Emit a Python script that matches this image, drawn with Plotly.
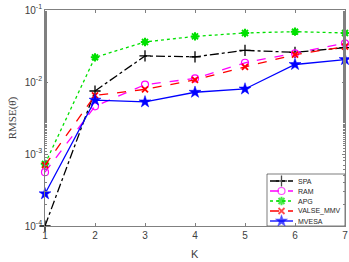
import plotly.graph_objects as go

K = [1, 2, 3, 4, 5, 6, 7]
spa = [1.0e-4, 7.5e-3, 0.023, 0.0224, 0.0275, 0.0258, 0.030]
ram = [5.6e-4, 4.6e-3, 0.0092, 0.0112, 0.0185, 0.025, 0.0345]
apg = [7.3e-4, 0.022, 0.036, 0.043, 0.048, 0.050, 0.048]
valse = [7.0e-4, 6.5e-3, 0.0079, 0.0107, 0.0162, 0.024, 0.031]
mvesa = [2.8e-4, 5.6e-3, 5.3e-3, 7.2e-3, 8.0e-3, 0.0175, 0.0205]

names = ["SPA", "RAM", "APG", "VALSE_MMV", "MVESA"]
ytickvals = [1e-4, 1e-3, 1e-2, 1e-1]
yticktext = ["10<sup>-4</sup>", "10<sup>-3</sup>", "10<sup>-2</sup>", "10<sup>-1</sup>"]

W, H = 349, 262
ML, MR, MT, MB = 45, 4, 10, 36
PX0, PX1 = ML, W - MR
PY0, PY1 = MT, H - MB
AX = "#808080"

styles = [
    (spa, "black", "dashdot", dict(symbol="cross-thin", size=8, line=dict(color="black", width=1.3))),
    (ram, "magenta", "dash", dict(symbol="circle-open", size=7, color="magenta", line=dict(color="magenta", width=1.2))),
    (apg, "#00e000", "dot", dict(symbol="asterisk", size=7, line=dict(color="#00e000", width=2))),
    (valse, "red", "dash", dict(symbol="x-thin", size=6, line=dict(color="red", width=1.8))),
    (mvesa, "blue", "solid", dict(symbol="star", size=9, color="blue", line=dict(color="blue", width=0.5))),
]

fig = go.Figure()
for (vals, col, dash, mk), nm in zip(styles, names):
    fig.add_trace(go.Scatter(x=K, y=vals, name=nm, mode="lines+markers", cliponaxis=False,
                             line=dict(color=col, dash=dash, width=1.3),
                             marker=mk, showlegend=False))

# custom legend drawn on an overlay axis in pixel units
LX0, LX1, LY0, LY1 = 267, PX1, 174, PY1
row_y = [181, 191, 201, 211, 221]
fig.add_shape(type="rect", xref="x2", yref="y2", x0=LX0, x1=LX1, y0=LY0, y1=LY1,
              fillcolor="white", line=dict(color="#262626", width=0.6), layer="below")
for (vals, col, dash, mk), nm, ry in zip(styles, names, row_y):
    m = dict(mk)
    s = m["size"]
    m["size"] = [0, s, 0]
    fig.add_trace(go.Scatter(x=[270, 281.5, 293], y=[ry, ry, ry], mode="lines+markers",
                             xaxis="x2", yaxis="y2", showlegend=False, hoverinfo="skip",
                             line=dict(color=col, dash=dash, width=1.3), marker=m))
    fig.add_annotation(x=296, y=ry, xref="x2", yref="y2", text=nm, showarrow=False,
                       xanchor="left", yanchor="middle",
                       font=dict(size=7, family="Liberation Sans, Arial", color="#262626"))

# x-axis title placed below tick labels (paper coordinates)
fig.add_annotation(x=0.5, y=(PY1 - 254) / (PY1 - PY0), xref="paper", yref="paper",
                   text="K", showarrow=False, xanchor="center", yanchor="middle",
                   font=dict(size=11, family="Liberation Sans, Arial", color="#404040"))

fig.update_layout(
    width=W, height=H,
    margin=dict(l=ML, r=MR, t=MT, b=MB, autoexpand=False),
    plot_bgcolor="white", paper_bgcolor="white",
    font=dict(family="Liberation Sans, Arial", size=10, color="#404040"),
    showlegend=False,
    xaxis2=dict(overlaying="x", range=[PX0, PX1], visible=False, fixedrange=True),
    yaxis2=dict(overlaying="y", range=[PY1, PY0], visible=False, fixedrange=True),
)
fig.layout.xaxis.update(range=[1, 7], tickvals=K, ticks="inside", ticklen=3, tickcolor=AX,
                        showline=True, mirror="allticks", linecolor=AX, linewidth=0.8,
                        showgrid=False, zeroline=False, automargin=False)
fig.layout.yaxis.update(type="log", range=[-4, -1], tickvals=ytickvals, ticktext=yticktext,
                        ticks="inside", ticklen=3, tickcolor=AX,
                        minor=dict(ticks="inside", ticklen=2, showgrid=False, tickcolor=AX),
                        showline=True, mirror="allticks", linecolor=AX, linewidth=0.8,
                        showgrid=False, zeroline=False, automargin=False,
                        title=dict(text="RMSE(θ\u0302)", standoff=5,
                                   font=dict(family="Liberation Serif, Times New Roman", size=11)))
fig.write_html("out.html", config={"displayModeBar": False},
               post_script="document.body.style.margin='0';document.body.style.overflow='hidden';")
